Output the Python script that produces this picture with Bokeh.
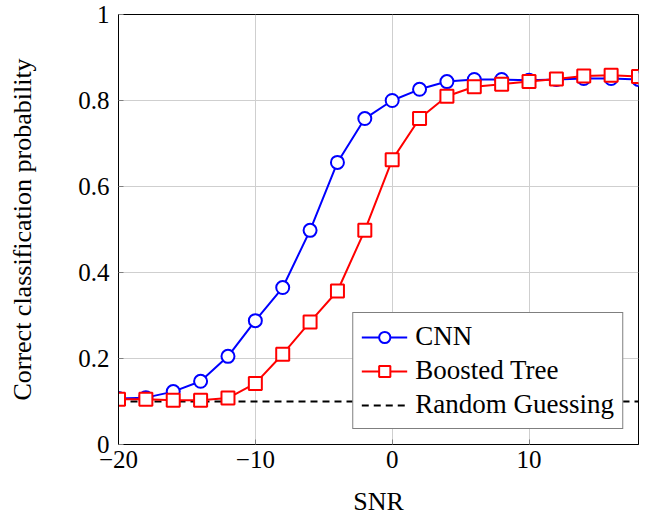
from bokeh.plotting import figure
from bokeh.models import Range1d, Legend, LegendItem, FixedTicker
from bokeh.embed import file_html
from bokeh.resources import INLINE

snr = [-20, -18, -16, -14, -12, -10, -8, -6, -4, -2, 0, 2, 4, 6, 8, 10, 12, 14, 16, 18]
cnn = [0.107, 0.109, 0.123, 0.147, 0.205, 0.288, 0.365, 0.498, 0.656, 0.758, 0.800,
       0.826, 0.844, 0.849, 0.849, 0.847, 0.849, 0.851, 0.851, 0.849]
boosted = [0.105, 0.105, 0.103, 0.103, 0.108, 0.142, 0.210, 0.285, 0.357, 0.498, 0.662,
           0.758, 0.810, 0.832, 0.838, 0.844, 0.850, 0.857, 0.859, 0.856]
random_x = [-20, 18]
random_y = [0.1, 0.1]
x_ticks = [-20, -10, 0, 10]
x_tick_labels = {-20: "\u221220", -10: "\u221210", 0: "0", 10: "10"}
y_ticks = [0, 0.2, 0.4, 0.6, 0.8, 1]
y_tick_labels = {0: "0", 0.2: "0.2", 0.4: "0.4", 0.6: "0.6", 0.8: "0.8", 1: "1"}

FONT = "Liberation Serif"

p = figure(frame_width=520, frame_height=430, output_backend="svg", toolbar_location=None,
           x_range=Range1d(-20, 18), y_range=Range1d(0, 1),
           min_border_left=118, min_border_top=14, min_border_right=6, min_border_bottom=70)
p.outline_line_color = "black"
p.outline_line_width = 1
p.background_fill_color = "white"

for ax in (p.xaxis[0], p.yaxis[0]):
    ax.major_label_text_font = FONT
    ax.major_label_text_font_size = "25px"
    ax.axis_label_text_font = FONT
    ax.axis_label_text_font_size = "26px"
    ax.axis_label_text_font_style = "normal"
    ax.axis_label_text_color = "black"
    ax.major_tick_in = 5
    ax.major_tick_out = 0
    ax.minor_tick_line_color = None
    ax.major_tick_line_color = "#808080"
    ax.axis_line_color = "black"
    ax.major_label_text_color = "black"

p.xaxis.ticker = FixedTicker(ticks=x_ticks)
p.yaxis.ticker = FixedTicker(ticks=y_ticks)
p.xaxis.major_label_overrides = x_tick_labels
p.yaxis.major_label_overrides = y_tick_labels
p.xaxis.axis_label = "SNR"
p.yaxis.axis_label = "Correct classification probability"
p.xaxis.major_label_standoff = 6
p.xaxis.axis_label_standoff = 16
p.yaxis.major_label_standoff = 9
p.yaxis.axis_label_standoff = 38

p.xgrid.ticker = FixedTicker(ticks=x_ticks)
p.ygrid.ticker = FixedTicker(ticks=y_ticks)
p.grid.grid_line_color = "#cfcfcf"
p.grid.grid_line_width = 1

r_rand = p.line(random_x, random_y, line_color="black", line_width=1.8, line_dash="7 5")

l_cnn = p.line(snr, cnn, line_color="#0000ff", line_width=2)
m_cnn = p.scatter(snr, cnn, marker="circle", size=13, line_color="#0000ff", line_width=2,
                  fill_color="white")
l_bt = p.line(snr, boosted, line_color="#ff0000", line_width=2)
m_bt = p.scatter(snr, boosted, marker="square", size=13, line_color="#ff0000", line_width=2,
                 fill_color="white")

legend = Legend(items=[
    LegendItem(label="CNN", renderers=[l_cnn, m_cnn]),
    LegendItem(label="Boosted Tree", renderers=[l_bt, m_bt]),
    LegendItem(label="Random Guessing", renderers=[r_rand]),
], location="bottom_right")
legend.label_text_font = FONT
legend.label_text_font_size = "27px"
legend.label_text_color = "black"
legend.glyph_width = 46
legend.glyph_height = 28
legend.label_height = 28
legend.spacing = 3
legend.label_standoff = 8
legend.padding = 8
legend.margin = 15
legend.border_line_color = "black"
legend.border_line_width = 1
legend.background_fill_alpha = 1
p.add_layout(legend, "center")

open("out.html", "w").write(file_html(p, INLINE))
